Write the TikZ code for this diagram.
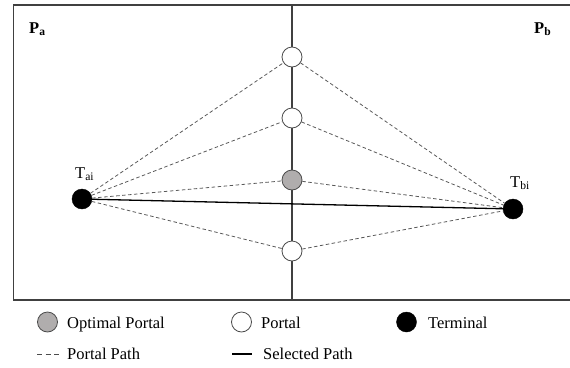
\documentclass[tikz,border=0pt]{standalone}
\usepackage{fontspec}
\setmainfont{Liberation Serif}
\usepackage{tikz}
\usetikzlibrary{arrows,positioning}
\definecolor{optgray}{RGB}{176,173,173}
\definecolor{framegray}{RGB}{64,64,64}
\tikzset{portal/.style={circle,draw=black!70,line width=0.8pt,fill=white,minimum size=20pt,inner sep=0pt}}
\tikzset{optportal/.style={portal,fill=optgray}}
\tikzset{terminal/.style={circle,draw=black,fill=black,minimum size=20pt,inner sep=0pt}}
\tikzset{portalpath/.style={draw=black!65,line width=0.8pt,dash pattern=on 3.5pt off 2.5pt}}
\tikzset{selpath/.style={draw=black,line width=1.3pt}}
\tikzset{lbl/.style={anchor=base west,inner sep=0pt}}

\begin{document}
\begin{tikzpicture}[x=1pt,y=-1pt,font=\fontsize{16.5}{20}\selectfont]
\useasboundingbox (0,0) rectangle (570,367);
% \draw[help lines] (0,0) grid (570,367);
\draw[framegray,line width=1.8pt] (13.5,5) rectangle (571,300);
\coordinate (top) at (292,5);
\coordinate (bot) at (292,300);
\draw[framegray,line width=1.6pt] (top) -- (bot);
%
\node (pa) [lbl,font=\fontsize{16.5}{20}\selectfont\bfseries] at (29,33) {P\textsubscript{a}};
\node (pb) [lbl,font=\fontsize{16.5}{20}\selectfont\bfseries] at (534,33) {P\textsubscript{b}};
%
\node (p1) [portal] at (292,57) {};
\node (p2) [portal] at (292,118) {};
\node (p3) [optportal] at (292,180) {};
\node (p4) [portal] at (292,251) {};
\node (ta) [terminal] at (82,199) {};
\node (tb) [terminal] at (513,209) {};
\node (tal) [lbl] at (75,178) {T\textsubscript{ai}};
\node (tbl) [lbl] at (510,187) {T\textsubscript{bi}};
%
\foreach \p in {p1,p2,p3,p4}{
  \path[portalpath] (ta) edge (\p);
  \path[portalpath] (\p) edge (tb);
}
\path[selpath] (ta) edge (tb);
%
% legend
\node (lgopt) [optportal] at (47.5,322) {};
\node (lgport) [portal] at (241.5,322) {};
\node (lgterm) [terminal] at (406.5,322) {};
\node (lgopttx) [lbl] at (67,328) {Optimal Portal};
\node (lgporttx) [lbl] at (261,328) {Portal};
\node (lgtermtx) [lbl] at (428,328) {Terminal};
\coordinate (dsha) at (37,354);
\coordinate (dshb) at (60,354);
\coordinate (sela) at (232,354);
\coordinate (selb) at (252,354);
\path[draw=black!70,line width=0.8pt,dash pattern=on 5pt off 3.5pt] (dsha) edge (dshb);
\path[draw=black,line width=1.1pt] (sela) edge (selb);
\node (lgpptx) [lbl] at (67,359) {Portal Path};
\node (lgsptx) [lbl] at (263,359) {Selected Path};
\end{tikzpicture}
\end{document}
